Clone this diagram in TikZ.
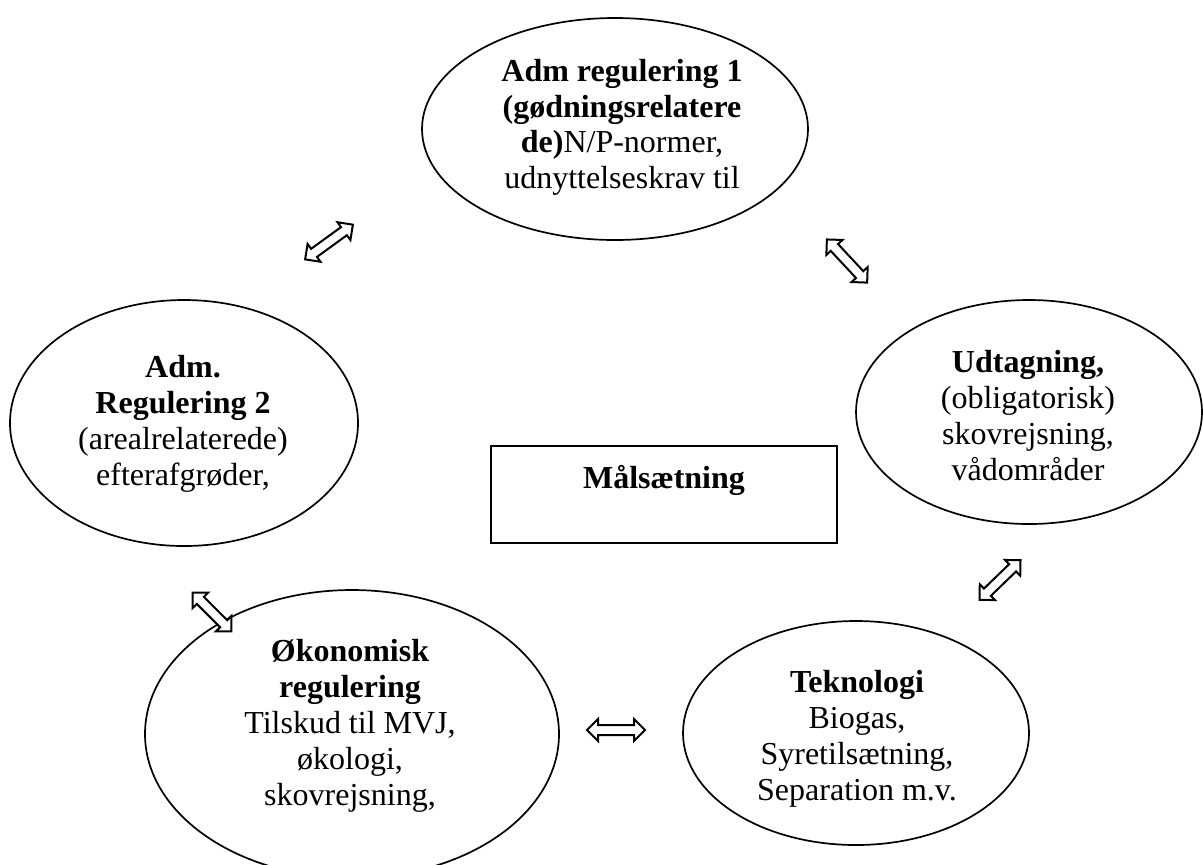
\documentclass[tikz,border=0pt]{standalone}
\usepackage{fontspec}
\setmainfont{Liberation Serif}
\usetikzlibrary{shapes.geometric,shapes.arrows}
\begin{document}
\begin{tikzpicture}[x=0.5pt,y=-0.5pt,
  oval/.style={draw,ellipse,line width=0.85pt,inner sep=0pt},
  txt/.style={align=center,font=\fontsize{16}{18}\selectfont,inner sep=0pt,anchor=base},
  dbl/.style={draw,double arrow,line width=1pt,inner sep=0pt,inner ysep=2pt,
    minimum width=10pt,double arrow head extend=3pt,fill=white}]
\useasboundingbox (0,0) rectangle (1203,864);
\clip (0,0) rectangle (1203,864);
% ellipses
\node[oval,minimum width=193pt,minimum height=111pt] (top) at (615,129) {};
\node[oval,minimum width=174pt,minimum height=123pt] (left) at (184,423) {};
\node[oval,minimum width=173pt,minimum height=112pt] (right) at (1029,412) {};
\node[oval,minimum width=207pt,minimum height=144pt] (bl) at (352,734) {};
\node[oval,minimum width=173pt,minimum height=112pt] (br) at (856,733) {};
% rectangle
\node[draw,line width=1pt,minimum width=173pt,minimum height=48.5pt,inner sep=0pt] (goal) at (664,494.5) {};
% texts (anchored at baseline of last line)
\node[txt,font=\fontsize{16}{17.7}\selectfont] (ttop) at (622,188) {\textbf{Adm regulering 1}\\\textbf{(gødningsrelatere}\\\textbf{de)}N/P-normer,\\udnyttelseskrav til};
\node[txt] (tleft) at (183,485) {\textbf{Adm.}\\\textbf{Regulering 2}\\(arealrelaterede)\\efterafgrøder,};
\node[txt] (tright) at (1028,480) {\textbf{Udtagning,}\\(obligatorisk)\\skovrejsning,\\vådområder};
\node[txt] (tgoal) at (664,488) {\textbf{Målsætning}};
\node[txt] (tbl) at (350,805) {\textbf{Økonomisk}\\\textbf{regulering}\\Tilskud til MVJ,\\økologi,\\skovrejsning,};
\node[txt] (tbr) at (857,800) {\textbf{Teknologi}\\Biogas,\\Syretilsætning,\\Separation m.v.};
% double arrows
\node[dbl,minimum height=29.5pt,rotate=36] (a1) at (329,242) {};
\node[dbl,minimum height=29.5pt,rotate=-47] (a2) at (847,261) {};
\node[dbl,minimum height=28.5pt,rotate=44] (a3) at (1000,580) {};
\node[dbl,minimum height=27.5pt,rotate=-45] (a4) at (212,612) {};
\node[dbl,minimum height=29pt] (a5) at (616,730) {};
\end{tikzpicture}
\end{document}
